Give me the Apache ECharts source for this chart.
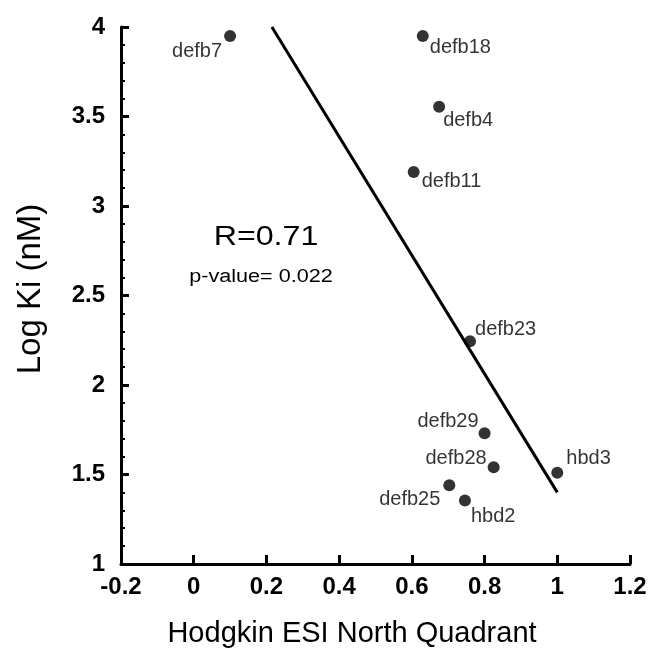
<!DOCTYPE html>
<html>
<head>
<meta charset="utf-8">
<script src="https://cdn.jsdelivr.net/npm/echarts@6/dist/echarts.min.js"></script>
<style>html,body{margin:0;padding:0;background:#fff;}#chart{width:651px;height:661px;}</style>
</head>
<body>
<div id="chart"></div>
<script>
const names = ['defb7','defb18','defb4','defb11','defb23','defb29','defb28','hbd3','defb25','hbd2'];
const xValues = [0.10, 0.63, 0.675, 0.605, 0.76, 0.80, 0.825, 1.00, 0.703, 0.746];
const yValues = [3.95, 3.95, 3.555, 3.19, 2.245, 1.73, 1.54, 1.51, 1.44, 1.355];
const fitX = [0.215, 1.0];
const fitY = [4.0, 1.40];
const xTicks = {min: -0.2, max: 1.2, interval: 0.2};
const yTicks = {min: 1, max: 4, interval: 0.5};
const rText = 'R=0.71';
const pText = 'p-value= 0.022';

// label placement: [align, dx, dy]
const labelPlace = {
  defb7: ['right', -8, 16], defb18: ['left', 7, 12], defb4: ['left', 4, 14], defb11: ['left', 8, 9],
  defb23: ['left', 5, -12], defb29: ['right', -6, -12], defb28: ['right', -7, -9], hbd3: ['left', 9, -14],
  defb25: ['right', -9, 14], hbd2: ['left', 6, 16]
};

const FONT = '"Liberation Sans", Arial, sans-serif';
const pts = names.map((n, i) => {
  const p = labelPlace[n];
  return {
    name: n, value: [xValues[i], yValues[i]],
    label: {show: true, position: 'inside', formatter: n, align: p[0], verticalAlign: 'middle', offset: [p[1], p[2]],
      color: '#000', fontSize: 20, fontFamily: FONT}
  };
});

const chart = echarts.init(document.getElementById('chart'), null, {renderer: 'canvas'});
chart.setOption({
  backgroundColor: '#fff',
  animation: false,
  grid: {left: 121, right: 21, top: 27, bottom: 97, containLabel: false},
  xAxis: {
    type: 'value', min: xTicks.min, max: xTicks.max, interval: xTicks.interval,
    axisLine: {show: true, onZero: false, lineStyle: {color: '#000', width: 3}},
    axisTick: {show: true, inside: true, length: 9, lineStyle: {color: '#000', width: 3}},
    axisLabel: {color: '#000', fontSize: 24, fontWeight: 'bold', fontFamily: FONT, margin: 11,
      formatter: v => String(Math.round(v * 10) / 10)},
    splitLine: {show: false}
  },
  yAxis: {
    type: 'value', min: yTicks.min, max: yTicks.max, interval: yTicks.interval,
    axisLine: {show: true, onZero: false, lineStyle: {color: '#000', width: 3}},
    axisTick: {show: true, inside: true, length: 8, lineStyle: {color: '#000', width: 3}},
    minorTick: {show: true, splitNumber: 5, length: 4, lineStyle: {color: '#000', width: 2}},
    axisLabel: {color: '#000', fontSize: 24, fontWeight: 'bold', fontFamily: FONT, margin: 16,
      formatter: v => String(Math.round(v * 10) / 10)},
    splitLine: {show: false}
  },
  series: [
    {type: 'line', data: fitX.map((x, i) => [x, fitY[i]]), symbol: 'none', lineStyle: {color: '#000', width: 3}, silent: true, z: 1},
    {type: 'scatter', data: pts, symbol: 'circle', symbolSize: 12, itemStyle: {color: '#000'}, z: 2}
  ],
  graphic: [
    {type: 'text', x: 31, y: 289, rotation: Math.PI / 2,
      style: {text: 'Log Ki (nM)', fontSize: 33, fontFamily: FONT, fill: '#000', align: 'center', verticalAlign: 'middle'}},
    {type: 'text', x: 352, y: 634,
      style: {text: 'Hodgkin ESI North Quadrant', fontSize: 29, fontFamily: FONT, fill: '#000', align: 'center', verticalAlign: 'middle'}},
    {type: 'text', x: 266, y: 237, scaleX: 1.15,
      style: {text: rText, fontSize: 28, fontFamily: FONT, fill: '#000', align: 'center', verticalAlign: 'middle'}},
    {type: 'text', x: 261, y: 277, scaleX: 1.2,
      style: {text: pText, fontSize: 18, fontFamily: FONT, fill: '#000', align: 'center', verticalAlign: 'middle'}}
  ]
});
</script>
</body>
</html>
